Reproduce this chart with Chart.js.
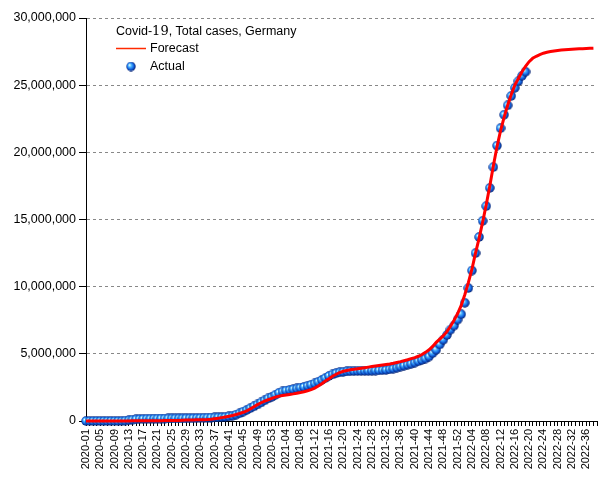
<!DOCTYPE html>
<html>
<head>
<meta charset="utf-8">
<title>Covid-19, Total cases, Germany</title>
<script src="https://cdn.jsdelivr.net/npm/chart.js@4.4.1/dist/chart.umd.min.js"></script>
<style>
  html, body { margin: 0; padding: 0; background: #fff; }
  #chart { display: block; }
</style>
</head>
<body>
<canvas id="chart" width="605" height="480"></canvas>
<script>
// -------------------------
// Datos (semanas ISO)
// -------------------------
const weekYears = [2020, 2021, 2022];
const weeksInYear = [53, 52, 39];

const actualCases = [
  0, 0, 0, 0, 0, 0, 0, 0, 100, 1000,
  5000, 25000, 60000, 100000, 125000, 145000, 158000, 165000, 172000, 176000,
  179000, 182000, 185000, 188000, 192000, 195000, 197000, 200000, 204000, 208000,
  213000, 220000, 230000, 240000, 248000, 256000, 265000, 277000, 290000, 310000,
  340000, 390000, 470000, 580000, 700000, 830000, 960000, 1090000, 1230000, 1380000,
  1540000, 1680000, 1800000, 1950000, 2100000, 2200000, 2270000, 2320000, 2370000, 2420000,
  2480000, 2540000, 2620000, 2700000, 2800000, 2920000, 3060000, 3200000, 3350000, 3470000,
  3560000, 3620000, 3660000, 3690000, 3710000, 3720000, 3725000, 3730000, 3735000, 3740000,
  3745000, 3755000, 3770000, 3790000, 3810000, 3850000, 3900000, 3970000, 4050000, 4120000,
  4190000, 4260000, 4350000, 4450000, 4550000, 4650000, 4800000, 5050000, 5300000, 5700000,
  6050000, 6400000, 6800000, 7100000, 7550000, 7950000, 8800000, 9900000, 11200000, 12500000,
  13700000, 14900000, 16000000, 17350000, 18900000, 20500000, 21800000, 22800000, 23500000, 24200000,
  24800000, 25300000, 25700000, 26000000
];

const forecastCases = [
  0, 0, 0, 0, 0, 0, 0, 0, 0, 0,
  0, 0, 0, 10000, 12000, 14000, 16000, 18000, 20000, 22000,
  24000, 26000, 28000, 30000, 32000, 34000, 36000, 60000, 70000, 75000,
  80000, 85000, 90000, 100000, 110000, 130000, 170000, 200000, 250000, 300000,
  350000, 410000, 480000, 560000, 650000, 760000, 900000, 1060000, 1220000, 1360000,
  1480000, 1580000, 1680000, 1780000, 1850000, 1900000, 1940000, 1980000, 2020000, 2070000,
  2120000, 2180000, 2250000, 2340000, 2450000, 2600000, 2780000, 2970000, 3150000, 3330000,
  3480000, 3600000, 3700000, 3760000, 3810000, 3850000, 3890000, 3930000, 3970000, 4010000,
  4050000, 4090000, 4130000, 4170000, 4210000, 4250000, 4300000, 4360000, 4420000, 4490000,
  4560000, 4640000, 4720000, 4820000, 4950000, 5110000, 5300000, 5550000, 5850000, 6100000,
  6350000, 6650000, 7050000, 7500000, 8000000, 8600000, 9400000, 10300000, 11300000, 12500000,
  13600000, 14800000, 16100000, 17500000, 19000000, 20400000, 21600000, 22600000, 23500000, 24300000,
  25000000, 25500000, 26000000, 26400000, 26750000, 27000000, 27150000, 27280000, 27380000, 27450000,
  27500000, 27550000, 27580000, 27610000, 27640000, 27660000, 27680000, 27700000, 27710000, 27720000,
  27730000, 27740000, 27750000
];

const yTicks = [0, 5000000, 10000000, 15000000, 20000000, 25000000, 30000000];

// etiquetas "2020-01" ... "2022-39"
const weekLabels = [];
weekYears.forEach((y, k) => {
  for (let w = 1; w <= weeksInYear[k]; w++) weekLabels.push(y + "-" + String(w).padStart(2, "0"));
});

// -------------------------
// Bolita azul (punto 3D)
// -------------------------
function makeBall(size){
  const c = document.createElement("canvas");
  c.width = size; c.height = size;
  const g = c.getContext("2d");
  const r = size / 2;
  const grd = g.createRadialGradient(r - 1.6, r - 1.6, 0.3, r, r, r);
  grd.addColorStop(0, "#e6ffff");
  grd.addColorStop(0.3, "#4cb6ff");
  grd.addColorStop(0.65, "#1262e2");
  grd.addColorStop(1, "#001258");
  g.fillStyle = grd;
  g.beginPath(); g.arc(r, r, r - 0.3, 0, Math.PI * 2); g.fill();
  return c;
}
const ball = makeBall(10);

const FONT = '"Liberation Sans", Arial, sans-serif';

// leyenda dibujada dentro del área
const legendInside = {
  id: "legendInside",
  afterDraw(chart){
    const ctx = chart.ctx;
    ctx.save();
    ctx.fillStyle = "#000";
    ctx.textBaseline = "middle";
    ctx.textAlign = "left";
    // titulo (el "19" sale en serif como en el original)
    let x = 116;
    const y = 32;
    ctx.font = "12.5px " + FONT;
    ctx.fillText("Covid-", x, y); x += ctx.measureText("Covid-").width;
    ctx.font = '13px "DejaVu Serif", "Liberation Serif", serif';
    ctx.fillText("19", x, y); x += ctx.measureText("19").width;
    ctx.font = "12.5px " + FONT;
    ctx.fillText(", Total cases, Germany", x, y);

    ctx.strokeStyle = "#ff2a00";
    ctx.lineWidth = 1.5;
    ctx.beginPath(); ctx.moveTo(116, 48.5); ctx.lineTo(146, 48.5); ctx.stroke();
    ctx.fillText("Forecast", 150, 48.5);

    ctx.drawImage(ball, 131 - 5, 66.5 - 5);
    ctx.fillText("Actual", 150, 66.5);
    ctx.restore();
  }
};

new Chart(document.getElementById("chart"), {
  type: "line",
  data: {
    labels: weekLabels,
    datasets: [
      {
        label: "Forecast",
        data: forecastCases,
        borderColor: "#ff0000",
        borderWidth: 3,
        pointRadius: 0,
        tension: 0,
        clip: false
      },
      {
        label: "Actual",
        data: actualCases,
        showLine: false,
        pointStyle: ball,
        pointRadius: 4.5,
        clip: false
      }
    ]
  },
  options: {
    responsive: false,
    animation: false,
    layout: { padding: { top: 18, right: 8, left: 0, bottom: 0 } },
    plugins: { legend: { display: false }, tooltip: { enabled: false } },
    scales: {
      x: {
        offset: false,
        grid: { drawOnChartArea: false, drawTicks: true, tickLength: 5, tickColor: "#000" },
        border: { color: "#000", width: 1 },
        ticks: {
          autoSkip: false, maxRotation: 90, minRotation: 90, padding: 3,
          color: "#000", font: { family: FONT, size: 11 },
          callback: (v, i) => (i % 4 === 0 ? weekLabels[i] : "")
        },
        afterFit: s => { s.height = 59; s.paddingRight = 0; s.paddingLeft = 0; }
      },
      y: {
        min: 0, max: 30000000,
        afterBuildTicks: s => { s.ticks = yTicks.map(v => ({ value: v })); },
        grid: { color: "#888", lineWidth: 1, tickLength: 7, tickColor: "#000" },
        border: { color: "#000", width: 1, dash: [3, 3] },
        ticks: {
          padding: 3, color: "#000", font: { family: FONT, size: 12.5 },
          callback: v => Number(v).toLocaleString("en-US")
        },
        afterFit: s => { s.width = 86; }
      }
    }
  },
  plugins: [legendInside]
});
</script>
</body>
</html>
